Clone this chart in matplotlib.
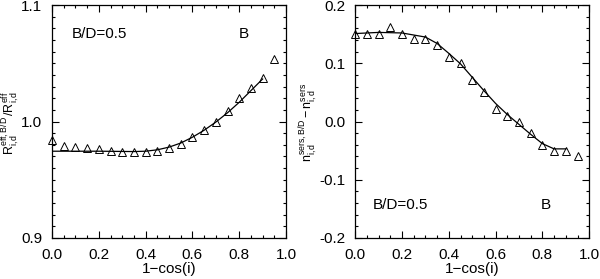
import numpy as np
import matplotlib.pyplot as plt
from matplotlib.ticker import MultipleLocator, FormatStrFormatter

plt.rcParams['font.family'] = ['Liberation Sans', 'DejaVu Sans']
plt.rcParams['mathtext.fontset'] = 'custom'
plt.rcParams['mathtext.rm'] = 'Liberation Sans'
plt.rcParams['mathtext.it'] = 'Liberation Sans'

# Data
x_pts = [0.0, 0.05, 0.1, 0.15, 0.2, 0.25, 0.3, 0.35, 0.4, 0.45,
         0.5, 0.55, 0.6, 0.65, 0.7, 0.75, 0.8, 0.85, 0.9, 0.95]
reff_pts = [0.984, 0.979, 0.978, 0.977, 0.976, 0.975, 0.974, 0.974, 0.974, 0.975,
            0.977, 0.981, 0.987, 0.993, 1.000, 1.009, 1.020, 1.029, 1.037, 1.054]
nser_pts = [0.151, 0.151, 0.151, 0.162, 0.151, 0.141, 0.141, 0.131, 0.111, 0.101,
            0.071, 0.050, 0.021, 0.010, 0.000, -0.020, -0.040, -0.051, -0.051, -0.060]

x_fit = [0.0, 0.1, 0.2, 0.3, 0.35, 0.4, 0.45, 0.5, 0.55, 0.6,
         0.65, 0.7, 0.75, 0.8, 0.85, 0.9]
reff_fit = [0.9745, 0.9745, 0.9745, 0.9743, 0.9742, 0.9745, 0.9757, 0.978, 0.9815, 0.9865,
            0.9925, 0.9995, 1.0075, 1.0165, 1.0265, 1.0365]
nser_fit = [0.151, 0.153, 0.152, 0.145, 0.134, 0.117, 0.099, 0.076, 0.053, 0.031,
            0.012, -0.005, -0.022, -0.038, -0.047, -0.047]

fs = 11

fig = plt.figure(figsize=(6.0, 2.79), dpi=100)
ax1 = fig.add_axes([0.0867, 0.147, 0.390, 0.835])
ax2 = fig.add_axes([0.592, 0.147, 0.390, 0.835])

for ax in (ax1, ax2):
    ax.tick_params(which='both', direction='in', top=True, right=True,
                   labelsize=fs, width=0.8, pad=7)
    ax.tick_params(which='major', length=5)
    ax.tick_params(which='minor', length=2.2)
    ax.set_xlim(0, 1)
    ax.xaxis.set_major_locator(MultipleLocator(0.2))
    ax.xaxis.set_minor_locator(MultipleLocator(0.05))
    ax.xaxis.set_major_formatter(FormatStrFormatter('%.1f'))
    ax.yaxis.set_major_formatter(FormatStrFormatter('%.1f'))
    ax.set_xlabel('1\u2212cos(i)', fontsize=fs, labelpad=0)
    for s in ax.spines.values():
        s.set_linewidth(0.9)

ax1.plot(x_fit, reff_fit, 'k-', lw=0.9)
ax1.plot(x_pts, reff_pts, '^', mfc='none', mec='k', ms=5.5, mew=0.7, clip_on=False)
ax1.set_ylim(0.9, 1.1)
ax1.yaxis.set_major_locator(MultipleLocator(0.1))
ax1.yaxis.set_minor_locator(MultipleLocator(0.01))
fig.text(0.017, 0.56, r'$\mathrm{R^{eff,B/D}_{i,d}\,/R^{eff}_{i,d}}$', fontsize=9,
         rotation=90, ha='center', va='center')
ax1.text(0.085, 1.075, 'B/D=0.5', fontsize=fs, va='center')
ax1.text(0.82, 1.075, 'B', fontsize=fs, va='center', ha='center')

ax2.plot(x_fit, nser_fit, 'k-', lw=0.9)
ax2.plot(x_pts, nser_pts, '^', mfc='none', mec='k', ms=5.5, mew=0.7, clip_on=False)
ax2.set_ylim(-0.2, 0.2)
ax2.yaxis.set_major_locator(MultipleLocator(0.1))
ax2.yaxis.set_minor_locator(MultipleLocator(0.02))
fig.text(0.513, 0.56, r'$\mathrm{n^{sers,B/D}_{i,d} - n^{sers}_{i,d}}$', fontsize=9,
         rotation=90, ha='center', va='center')
ax2.text(0.077, -0.143, 'B/D=0.5', fontsize=fs, va='center')
ax2.text(0.815, -0.143, 'B', fontsize=fs, va='center', ha='center')

fig.savefig('out.png', dpi=100)
